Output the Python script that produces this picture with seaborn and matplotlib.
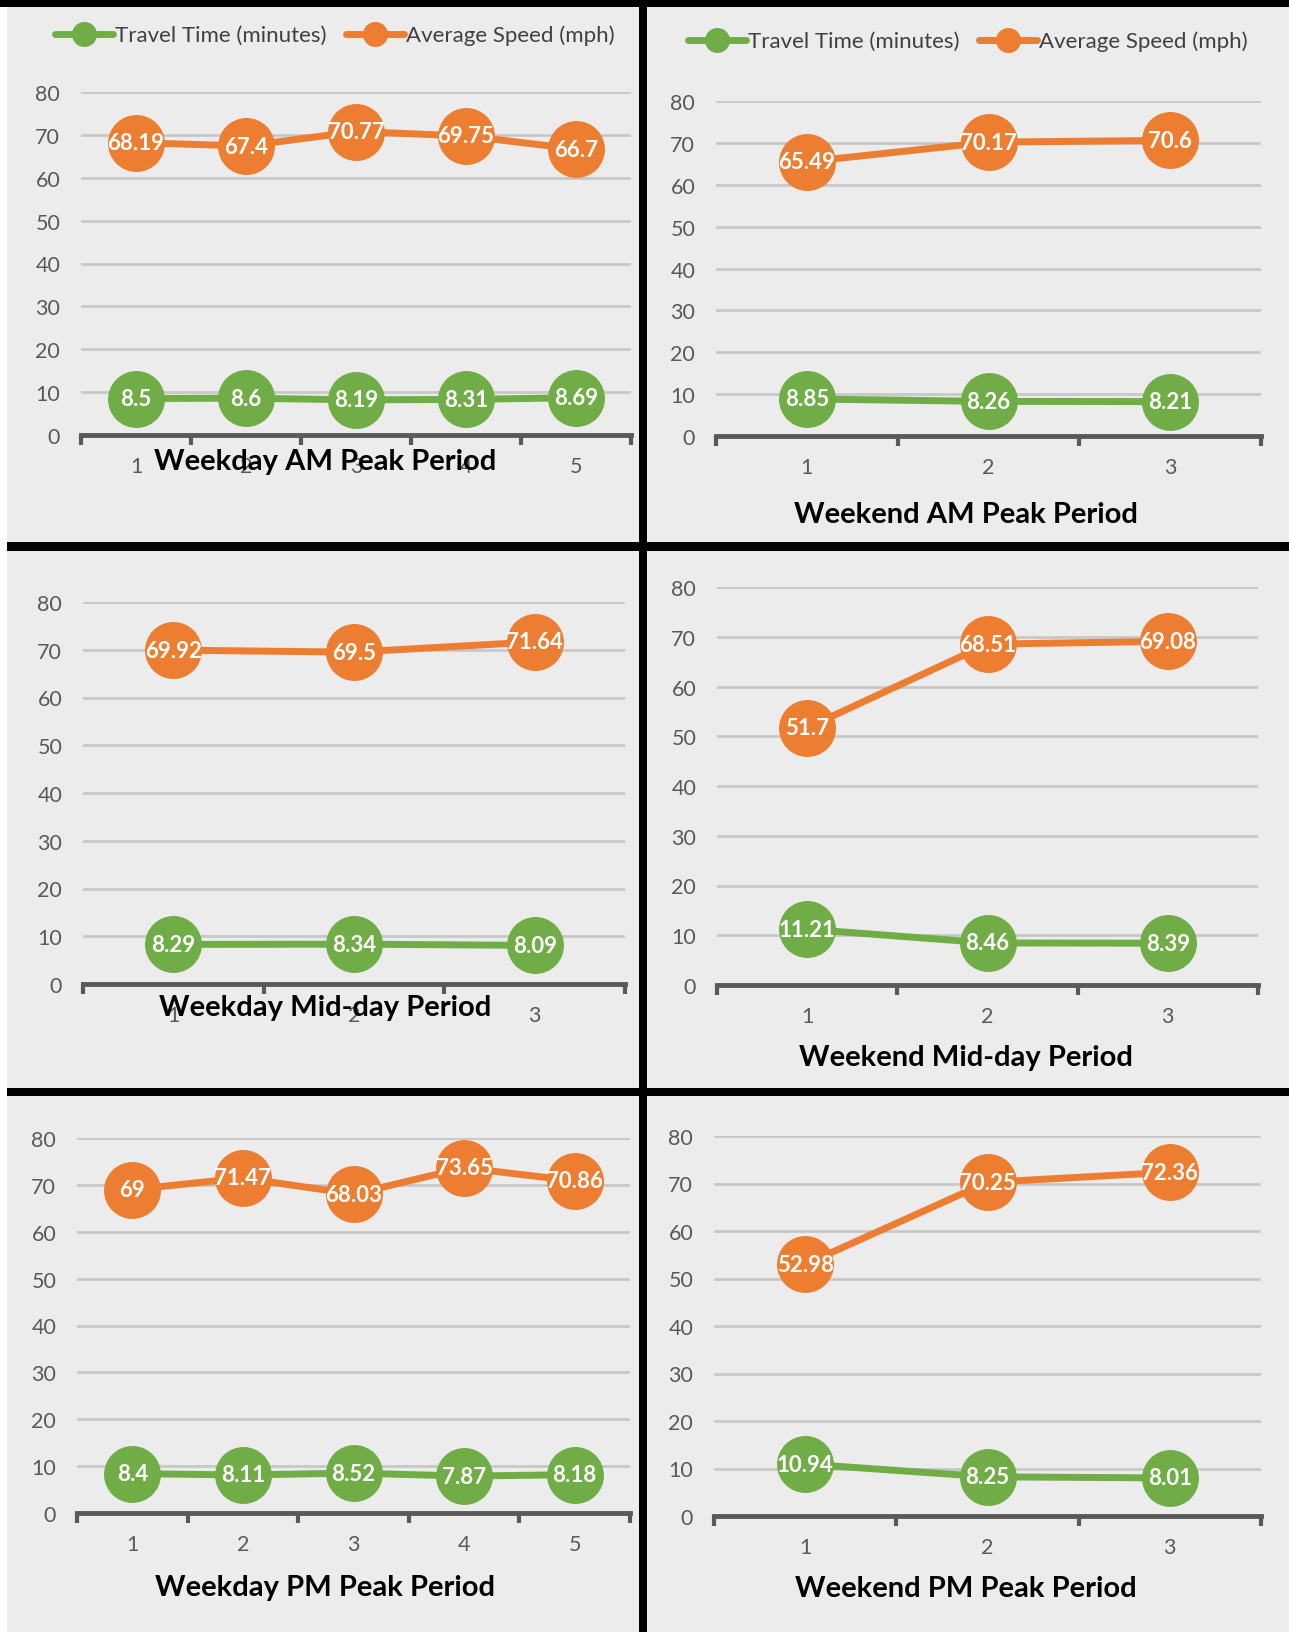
import numpy as np
import pandas as pd
import matplotlib
matplotlib.use("Agg")
import matplotlib.pyplot as plt
from matplotlib.lines import Line2D
from matplotlib.patches import Rectangle
import seaborn as sns

# ---- data -------------------------------------------------------------
weekday_segments = ["1", "2", "3", "4", "5"]
weekend_segments = ["1", "2", "3"]
midday_segments = ["1", "2", "3"]

wd_am_time = [8.5, 8.6, 8.19, 8.31, 8.69]
wd_am_speed = [68.19, 67.4, 70.77, 69.75, 66.7]
we_am_time = [8.85, 8.26, 8.21]
we_am_speed = [65.49, 70.17, 70.6]
wd_mid_time = [8.29, 8.34, 8.09]
wd_mid_speed = [69.92, 69.5, 71.64]
we_mid_time = [11.21, 8.46, 8.39]
we_mid_speed = [51.7, 68.51, 69.08]
wd_pm_time = [8.4, 8.11, 8.52, 7.87, 8.18]
wd_pm_speed = [69, 71.47, 68.03, 73.65, 70.86]
we_pm_time = [10.94, 8.25, 8.01]
we_pm_speed = [52.98, 70.25, 72.36]

series_names = ["Travel Time (minutes)", "Average Speed (mph)"]
panel_titles = ["Weekday AM Peak Period", "Weekend AM Peak Period",
                "Weekday Mid-day Period", "Weekend Mid-day Period",
                "Weekday PM Peak Period", "Weekend PM Peak Period"]
y_ticks = [0, 10, 20, 30, 40, 50, 60, 70, 80]

# ---- style ------------------------------------------------------------
GREEN = "#70AD47"
ORANGE = "#ED7D31"
BG = "#ECECEC"
AXIS = "#595959"
GRID = "#C8C8C8"

sns.set_theme(style="white")
plt.rcParams["font.family"] = ["Lato", "DejaVu Sans"]

W, H = 1289, 1633
fig = plt.figure(figsize=(W / 100, H / 100), dpi=100, facecolor=BG)


def fx(px):
    return px / W


def fy(py):
    return 1 - py / H


# frame: white strip, black separators
def rect(x0, y0, x1, y1, color):
    fig.add_artist(Rectangle((fx(x0), fy(y1)), fx(x1 - x0), (y1 - y0) / H,
                             transform=fig.transFigure, color=color, lw=0, zorder=0))


rect(0, 0, 7, H, "white")
rect(0, 0, W, 8, "black")
rect(639, 0, 647, H, "black")
rect(7, 543, W, 552, "black")
rect(7, 1089, W, 1097, "black")

# panel geometry in pixels: left, right, top (y=80), bottom (y=0)
boxes = [(81, 631, 93, 436), (716, 1261, 102, 437),
         (83, 625, 603, 985), (717, 1258, 588, 986),
         (77, 630, 1139, 1514), (714, 1261, 1137, 1517)]
title_pos = [(325, 462), (966, 515), (325, 1008), (966, 1058), (325, 1588), (966, 1589)]

panels = [(weekday_segments, wd_am_time, wd_am_speed),
          (weekend_segments, we_am_time, we_am_speed),
          (midday_segments, wd_mid_time, wd_mid_speed),
          (weekend_segments, we_mid_time, we_mid_speed),
          (weekday_segments, wd_pm_time, wd_pm_speed),
          (weekend_segments, we_pm_time, we_pm_speed)]

for i, ((segs, t, s), (l, r, top, bot)) in enumerate(zip(panels, boxes)):
    ax = fig.add_axes([fx(l), fy(bot), fx(r - l), (bot - top) / H])
    ax.set_facecolor("none")
    n = len(segs)
    df = pd.DataFrame({
        "pos": list(range(n)) * 2,
        "value": list(t) + list(s),
        "series": [series_names[0]] * n + [series_names[1]] * n,
    })
    sns.lineplot(data=df, x="pos", y="value", hue="series",
                 palette=[GREEN, ORANGE], hue_order=series_names,
                 marker="o", markersize=41, markeredgewidth=0, linewidth=5,
                 sort=False, legend=False, ax=ax, zorder=3)
    for ln in ax.lines:
        ln.set_clip_on(False)
    for k in range(n):
        for v in (t[k], s[k]):
            ax.text(k, v, f"{v:g}", ha="center", va="center", color="white",
                    fontsize=16, fontweight="bold", zorder=5, clip_on=False)

    ax.set_xlim(-0.5, n - 0.5)
    ax.set_ylim(0, 80)
    ax.set_yticks(y_ticks)
    ax.set_xticks(range(n))
    ax.set_xticklabels(segs)
    ax.set_xticks(np.arange(n + 1) - 0.5, minor=True)
    ax.set_xlabel("")
    ax.set_ylabel("")
    for g in y_ticks[1:]:
        ax.axhline(g, color=GRID, lw=2, zorder=1)
    for sp in ["top", "right", "left"]:
        ax.spines[sp].set_visible(False)
    ax.spines["bottom"].set_color(AXIS)
    ax.spines["bottom"].set_linewidth(3.5)
    ax.spines["bottom"].set_zorder(2)
    ax.tick_params(axis="x", which="major", length=0, pad=15, labelsize=15.5, labelcolor=AXIS)
    ax.tick_params(axis="x", which="minor", length=7, width=3, color=AXIS, direction="out", bottom=True)
    ax.tick_params(axis="y", length=0, pad=15, labelsize=15.5, labelcolor=AXIS)

    tx, ty = title_pos[i]
    fig.text(fx(tx), fy(ty), panel_titles[i], ha="center", va="center",
             fontsize=21, fontweight="bold", color="black")

# legends on the two top panels
handles = [Line2D([], [], color=GREEN, lw=5, marker="o", markersize=17),
           Line2D([], [], color=ORANGE, lw=5, marker="o", markersize=17)]
for cx, cy in [(335, 36), (968, 42)]:
    fig.legend(handles, series_names, loc="center", ncol=2,
               bbox_to_anchor=(fx(cx), fy(cy)), bbox_transform=fig.transFigure,
               frameon=False, fontsize=16, handlelength=2.6, handletextpad=0.1,
               columnspacing=0.9, labelcolor="#404040")

fig.savefig("out.png", dpi=100, facecolor=BG)
